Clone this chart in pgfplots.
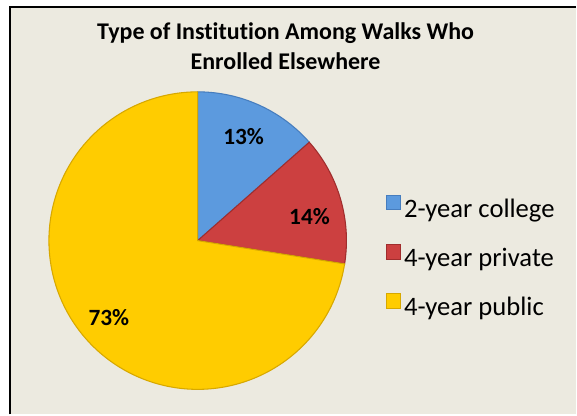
\documentclass[border=0pt]{standalone}
\usepackage{pgfplots}
\pgfplotsset{compat=1.18}
\usepackage{fontspec}
\setmainfont{Carlito}[Ligatures={NoCommon}]
\definecolor{bg}{RGB}{236,234,224}
\definecolor{pblue}{RGB}{92,154,222}
\definecolor{pblueD}{RGB}{70,125,190}
\definecolor{pred}{RGB}{204,64,64}
\definecolor{predD}{RGB}{160,45,45}
\definecolor{pyel}{RGB}{255,204,0}
\definecolor{pyelD}{RGB}{215,168,0}
% shares (percent) of each slice, clockwise from 12 o'clock
\def\va{13.5}
\def\vb{14.0}
\def\vc{72.5}
\pgfmathsetmacro{\aA}{90}
\pgfmathsetmacro{\aB}{90-3.6*\va}
\pgfmathsetmacro{\aC}{\aB-3.6*\vb}
\pgfmathsetmacro{\aD}{\aC-3.6*\vc}
\begin{document}
\begin{tikzpicture}
\fill[white] (0,0) rectangle (432.75pt,311.25pt);
\fill[bg] (7.5pt,0) rectangle (432.75pt,306pt);
\draw[line width=1.4pt] (7.5pt,0) -- (7.5pt,306pt) -- (432.75pt,306pt);
\begin{axis}[
  width=432.75pt, height=311.25pt, scale only axis,
  xmin=0, xmax=577, ymin=0, ymax=415, y dir=reverse,
  hide axis, clip=false,
  legend image code/.code={\fill[#1] (0pt,-0.5pt) rectangle (11pt,10.5pt);},
  legend style={draw=none, fill=none, font=\fontsize{20}{24}\selectfont,
    row sep=16.5pt, at={(axis cs:382,258)}, anchor=west,
    cells={anchor=west}},
]
\addplot[fill=pblue, draw=pblueD, line width=0.8pt, domain=\aB:\aA, samples=60, variable=\t]
  ({198+149*cos(\t)},{241-149*sin(\t)}) -- (axis cs:198,241) -- cycle;
\addlegendentry{2-year college}
\addplot[fill=pred, draw=predD, line width=0.8pt, domain=\aC:\aB, samples=60, variable=\t]
  ({198+149*cos(\t)},{241-149*sin(\t)}) -- (axis cs:198,241) -- cycle;
\addlegendentry{4-year private}
\addplot[fill=pyel, draw=pyelD, line width=0.8pt, domain=\aD:\aC, samples=200, variable=\t]
  ({198+149*cos(\t)},{241-149*sin(\t)}) -- (axis cs:198,241) -- cycle;
\addlegendentry{4-year public}
\node[font=\bfseries\fontsize{18}{22}\selectfont, anchor=base] at (axis cs:286,40) {Type of Institution Among Walks Who};
\node[font=\bfseries\fontsize{18}{22}\selectfont, anchor=base] at (axis cs:286,70) {Enrolled Elsewhere};
\node[font=\bfseries\fontsize{17.5}{21}\selectfont] at (axis cs:244,137) {13\%};
\node[font=\bfseries\fontsize{17.5}{21}\selectfont] at (axis cs:310,217) {14\%};
\node[font=\bfseries\fontsize{17.5}{21}\selectfont] at (axis cs:109,318) {73\%};
\end{axis}
\end{tikzpicture}
\end{document}
